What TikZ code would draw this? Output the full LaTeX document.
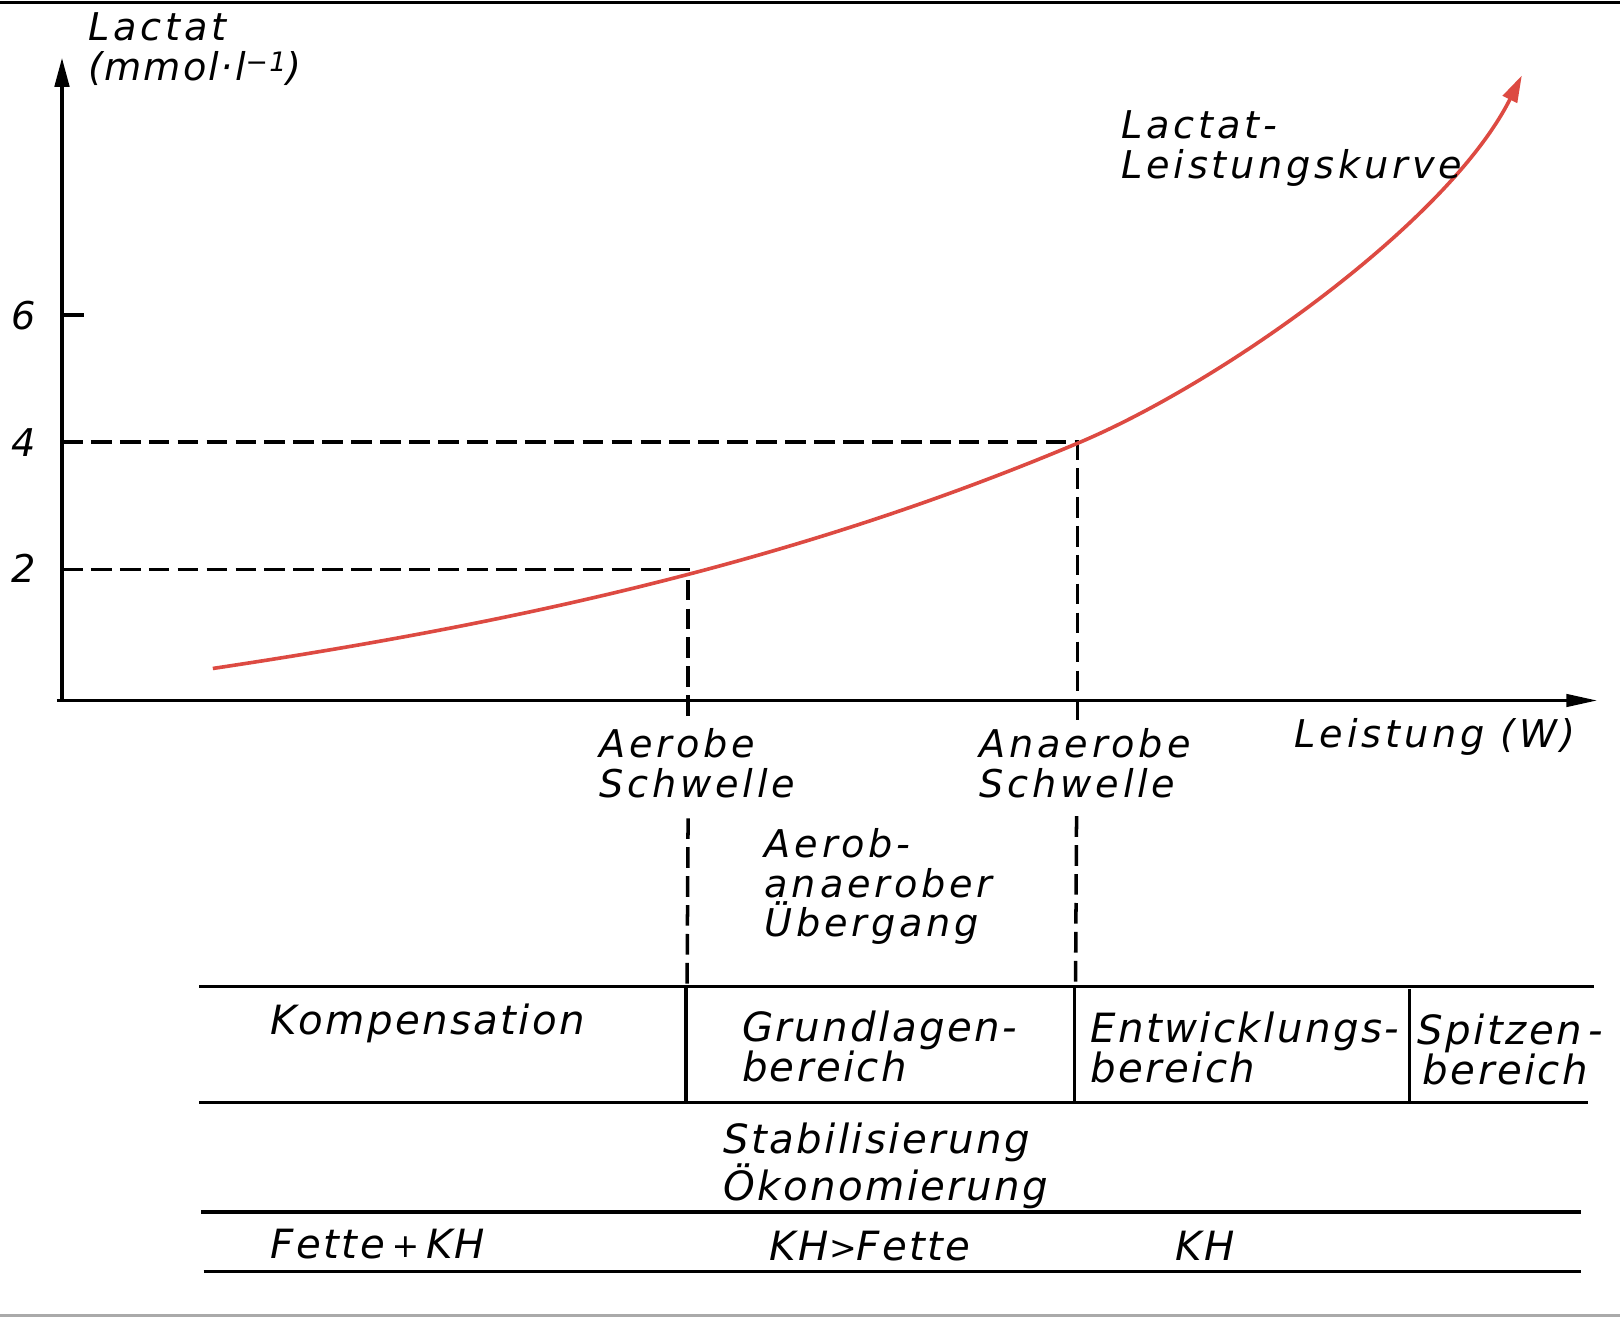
\documentclass[tikz,border=0pt]{standalone}
\usepackage{fontspec}
\usetikzlibrary{arrows.meta}
\newfontfamily\uplab[LetterSpace=10]{DejaVu Sans}
\newfontfamily\uplabtight[LetterSpace=5]{DejaVu Sans}
\newfontfamily\lowlab[LetterSpace=6]{DejaVu Sans}
\definecolor{curvered}{RGB}{221,74,66}
\definecolor{edgegray}{RGB}{170,170,170}
\tikzset{
  up/.style={font=\uplab\itshape\fontsize{37}{39}\selectfont, inner sep=0pt, anchor=north west, align=left},
  low/.style={font=\lowlab\itshape\fontsize{39}{36}\selectfont, inner sep=0pt, anchor=north west, align=left},
  num/.style={font=\uplab\itshape\fontsize{37}{39}\selectfont, inner sep=0pt, anchor=center},
  axisline/.style={line width=3.2pt},
  guide/.style={line width=3.4pt, dash pattern=on 20pt off 8pt},
  rule/.style={line width=3.2pt},
  lcurve/.style={curvered, line width=3.5pt},
}
\begin{document}
\begin{tikzpicture}[x=1pt,y=-1pt]
\fill[white] (0,0) rectangle (1568,1275);
\useasboundingbox (0,0) rectangle (1568,1275);
% frame lines
\coordinate (ftl) at (0,2); \coordinate (ftr) at (1568,2);
\coordinate (fbl) at (0,1273); \coordinate (fbr) at (1568,1273);
\draw[line width=3pt] (ftl) -- (ftr);
\draw[edgegray, line width=3pt] (fbl) -- (fbr);
% axes
\coordinate (O) at (60,678);
\coordinate (ytip) at (60,56);
\coordinate (xstart) at (55,678);
\coordinate (xtip) at (1546,678);
\draw[axisline, -{Triangle[length=28pt,width=14pt]}] (O) -- (ytip);
\draw[axisline, -{Triangle[length=30pt,width=12pt]}] (xstart) -- (xtip);
% ticks
\coordinate (y6) at (60,305); \coordinate (y6e) at (81,305);
\draw[axisline] (y6) -- (y6e);
\node[num] (n6) at (23,305) {6};
\node[num] (n4) at (23,428) {4};
\node[num] (n2) at (23,550) {2};
% guide lines
\coordinate (y4) at (60,428); \coordinate (c4) at (1043,428); \coordinate (c4b) at (1043,698);
\coordinate (c4c) at (1042,790); \coordinate (c4d) at (1041,955);
\coordinate (y2) at (60,551); \coordinate (c2) at (666,551); \coordinate (c2b) at (666,698);
\coordinate (c2c) at (666,792); \coordinate (c2d) at (665,955);
\draw[guide] (y4) -- (c4) -- (c4b);
\draw[guide] (c4c) -- (c4d);
\draw[guide] (y2) -- (c2) -- (c2b);
\draw[guide] (c2c) -- (c2d);
% curve
\coordinate (k0) at (206,647);
\coordinate (k1) at (1043,429);
\coordinate (k2) at (1473,73);
\draw[lcurve, -{Triangle[length=26pt,width=15pt]}]
  (k0) .. controls (486,605) and (763,547) .. (k1)
       .. controls (1186,369) and (1403,213) .. (k2);
% labels
\node[up] (ylab) at (85,12) {Lactat\\{\uplabtight(mmol·l\textsuperscript{−1})}};
\node[up] (clab) at (1085,107) {Lactat-\\Leistungskurve};
\node[up] (aer) at (580,705) {Aerobe\\Schwelle};
\node[up] (ana) at (948,705) {Anaerobe\\Schwelle};
\node[up] (xlab) at (1253,695) {Leistung (W)};
\node[up, font=\uplab\itshape\fontsize{37}{38}\selectfont] (trans) at (740,802) {Aerob-\\anaerober\\Übergang};
% table rules
\coordinate (r1l) at (193,955); \coordinate (r1r) at (1543,955);
\coordinate (r2l) at (193,1067); \coordinate (r2r) at (1537,1067);
\coordinate (r3l) at (195,1173); \coordinate (r3r) at (1530,1173);
\coordinate (r4l) at (197,1231); \coordinate (r4r) at (1530,1231);
\draw[rule] (r1l) -- (r1r);
\draw[rule] (r2l) -- (r2r);
\draw[rule] (r3l) -- (r3r);
\draw[rule] (r4l) -- (r4r);
\coordinate (v1t) at (664,955); \coordinate (v1b) at (664,1067);
\coordinate (v2t) at (1040,955); \coordinate (v2b) at (1040,1067);
\coordinate (v3t) at (1364,957); \coordinate (v3b) at (1364,1067);
\draw[rule] (v1t) -- (v1b);
\draw[rule] (v2t) -- (v2b);
\draw[rule] (v3t) -- (v3b);
% table texts
\node[low] (komp) at (262,971) {Kompensation};
\node[low] (grund) at (718,978) {Grundlagen-\\bereich};
\node[low] (entw) at (1055,979) {Entwicklungs-\\bereich};
\node[low] (spitz) at (1372,981) {Spitzen\,-\\\hspace{5pt}bereich};
\node[low] (stab) at (700,1087) {Stabilisierung\\Ökonomierung};
\node[low] (fette) at (262,1189) {Fette\,\raisebox{1pt}{\fontsize{32}{32}\selectfont+}\,KH};
\node[low] (khf) at (745,1191) {KH\raisebox{1pt}{\fontsize{32}{32}\selectfont>}Fette};
\node[low] (kh) at (1138,1191) {KH};
\end{tikzpicture}
\end{document}
